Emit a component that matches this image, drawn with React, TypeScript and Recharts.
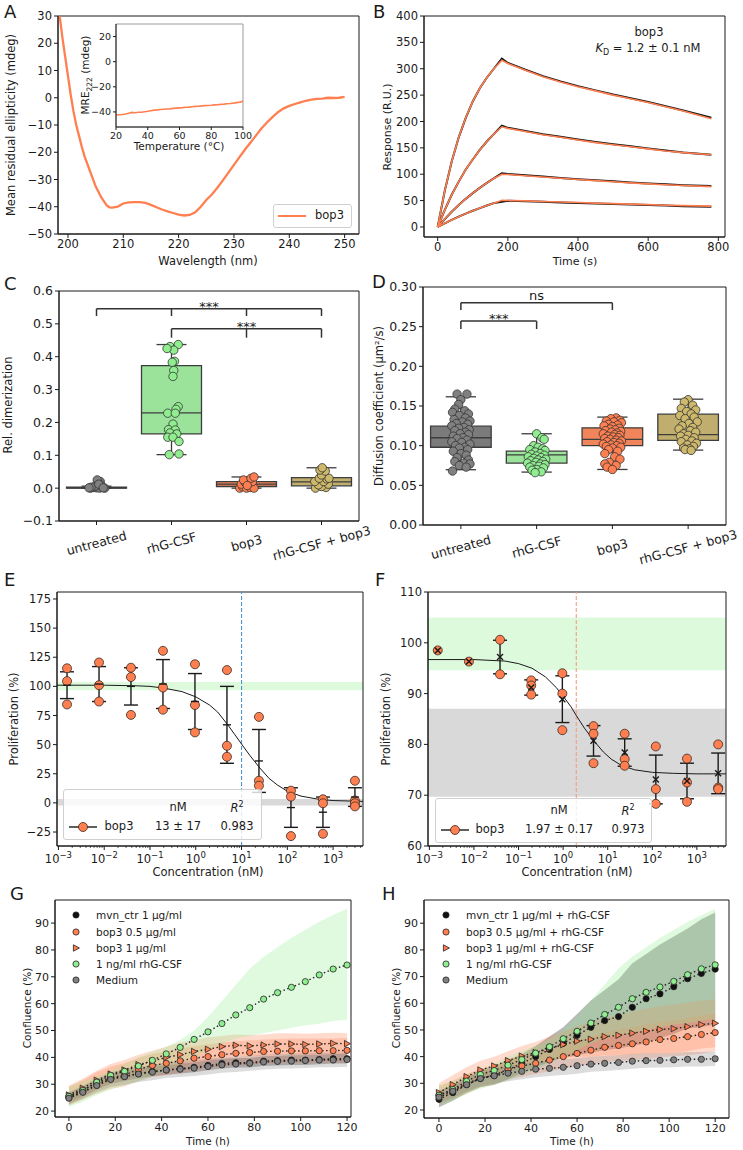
import React from "react";
import {
  Area,
  ComposedChart,
  ErrorBar,
  Line,
  ReferenceArea,
  ReferenceLine,
  Scatter,
  XAxis,
  YAxis,
} from "recharts";

const INK = "#1a1a1a";
const CORAL = "#ff7f50";
const LGREEN = "#90ee90";
const GREY = "#808080";
const KHAKI = "#cdb86c";
const FONT = '"DejaVu Sans", Verdana, sans-serif';

// ---------- A: CD spectrum + thermal melt inset ----------
const CD_WL = [198.5, 199, 199.5, 200, 200.5, 201, 201.5, 202, 202.5, 203, 204, 205, 206, 207, 207.5, 208, 209, 209.5, 210, 211, 212, 213, 214, 215, 216, 217, 218, 219, 220, 221, 222, 223, 224, 225, 226, 227, 228, 229, 230, 231, 232, 233, 234, 235, 236, 237, 238, 239, 240, 241, 242, 243, 244, 245, 246, 247, 248, 249, 250];
const CD_MRE = [30, 22, 15, 8, 1, -5, -10, -14, -18, -21.5, -27, -32.5, -36.5, -39.5, -40.2, -40.3, -40, -39.4, -38.8, -38.4, -38.3, -38.3, -38.6, -39.3, -40.2, -41, -41.7, -42.3, -42.9, -43.2, -43, -42, -40, -37.5, -35.5, -33, -30.3, -27.5, -24.6, -21.8, -19, -16.4, -13.8, -11.2, -9, -7, -5.2, -3.9, -3, -2.3, -1.7, -1.1, -0.7, -0.4, -0.3, 0, -0.1, 0, 0.3];
const MELT_T = [20, 22, 24, 26, 28, 30, 32, 34, 36, 38, 40, 42, 44, 46, 48, 50, 52, 54, 56, 58, 60, 62, 64, 66, 68, 70, 72, 74, 76, 78, 80, 82, 84, 86, 88, 90, 92, 94, 96, 98, 100];
const MELT_MRE = [-42.5, -42.2, -42.0, -41.6, -41.0, -40.4, -40.6, -40.2, -40.3, -39.9, -39.5, -39.0, -38.6, -38.4, -38.1, -37.9, -37.7, -37.6, -37.2, -37.0, -36.8, -36.6, -36.3, -36.2, -35.9, -35.6, -35.5, -35.2, -35.0, -34.9, -34.7, -34.4, -34.3, -34.0, -33.8, -33.5, -33.3, -33.0, -32.6, -32.2, -31.6];

// ---------- B: SPR sensorgrams ----------
const SPR_T = [0, 20, 40, 60, 80, 100, 120, 140, 160, 183, 200, 250, 300, 350, 400, 450, 500, 550, 600, 650, 700, 780];
const SPR_D1 = [0, 68, 124, 170, 207, 238, 263, 283, 300, 319, 311, 298, 286, 276, 267, 259, 251, 244, 237, 229, 221, 207];
const SPR_F1 = [0, 68, 124, 170, 207, 238, 263, 283, 300, 316, 310, 297, 285, 275, 266, 258, 250, 243, 236, 228, 220, 205];
const SPR_D2 = [0, 32, 61, 86, 109, 128, 146, 162, 176, 192, 188, 182, 176, 171, 166, 161, 157, 153, 149, 145, 141, 137];
const SPR_F2 = [0, 32, 61, 86, 109, 128, 146, 162, 176, 190, 187, 181, 175, 170, 165, 160, 156, 152, 148, 144, 141, 137];
const SPR_D3 = [0, 15, 28.8, 41.5, 53.3, 64.2, 74.2, 83.5, 92, 102, 100.5, 98, 95.5, 93, 90.5, 88.5, 86.5, 84.5, 82.5, 80.8, 79.2, 77.5];
const SPR_F3 = [0, 15, 28.8, 41.5, 53.3, 64.2, 74.2, 83.5, 92, 100, 99.5, 97.2, 94.8, 92.4, 90, 87.8, 85.7, 83.7, 81.8, 80, 78.5, 76.5];
const SPR_D4 = [0, 6.9, 13.4, 19.5, 25.3, 30.7, 35.8, 40.6, 45.2, 48, 49.5, 48.7, 47.6, 46.6, 45.6, 44.5, 43.5, 42.5, 41.5, 40.5, 39.5, 38.2];
const SPR_F4 = [0, 6.9, 13.4, 19.5, 25.3, 30.7, 35.8, 40.6, 45.2, 50.5, 50.2, 49.4, 48.4, 47.4, 46.4, 45.3, 44.3, 43.3, 42.3, 41.3, 40.4, 39.5];

// ---------- C / D: box + strip plots ----------
const GROUPS = ["untreated", "rhG-CSF", "bop3", "rhG-CSF + bop3"];
const GROUP_FILL = [GREY, LGREEN, CORAL, KHAKI];
const BOX_FILL = ["#7b7b7b", "#9be39b", "#f0845b", "#bfae6d"];

const C_LO = [0.0, 0.102, 0.0, 0.0];
const C_Q1 = [0.0, 0.165, 0.005, 0.007];
const C_MED = [0.001, 0.229, 0.012, 0.019];
const C_Q3 = [0.003, 0.373, 0.02, 0.032];
const C_HI = [0.006, 0.437, 0.034, 0.062];
const C_PTS: number[][][] = [
  [[-0.08, 0.0], [-0.04, 0.002], [0.0, 0.001], [0.04, 0.0], [0.08, 0.003], [0.11, 0.0], [0.05, 0.02], [0.01, 0.025], [-0.02, 0.006], [0.06, 0.009], [-0.07, 0.003], [0.03, 0.012], [0.09, 0.001], [-0.1, 0.001]],
  [[-0.02, 0.431], [0.09, 0.437], [0.03, 0.42], [-0.06, 0.425], [0.04, 0.386], [0.01, 0.383], [0.03, 0.358], [0.02, 0.34], [0.09, 0.248], [0.06, 0.24], [-0.05, 0.228], [0.05, 0.228], [0.02, 0.195], [-0.04, 0.178], [0.05, 0.177], [-0.02, 0.168], [0.07, 0.165], [-0.05, 0.155], [0.02, 0.155], [0.1, 0.142], [-0.03, 0.102], [0.1, 0.104]],
  [[-0.09, 0.0], [-0.05, 0.004], [0.0, 0.0], [0.05, 0.002], [0.1, 0.0], [-0.07, 0.012], [-0.02, 0.018], [0.03, 0.015], [0.08, 0.02], [-0.04, 0.025], [0.06, 0.03], [0.1, 0.034], [0.01, 0.008]],
  [[-0.08, 0.0], [0.06, 0.002], [0.0, 0.005], [-0.04, 0.01], [0.09, 0.012], [-0.09, 0.02], [0.03, 0.02], [0.07, 0.028], [-0.03, 0.03], [0.1, 0.03], [0.0, 0.04], [0.05, 0.052], [-0.02, 0.055], [0.01, 0.062]],
];
const C_SIG = [
  { from: 0, to: 3, y: 0.546, drop: 0.524, legs: [0, 1, 2, 3], text: "***" },
  { from: 1, to: 3, y: 0.485, drop: 0.458, legs: [1, 2, 3], text: "***" },
];

const D_LO = [0.0697, 0.0667, 0.07, 0.0944];
const D_Q1 = [0.098, 0.078, 0.1, 0.1066];
const D_MED = [0.11, 0.0885, 0.108, 0.114];
const D_Q3 = [0.1246, 0.093, 0.1225, 0.1397];
const D_HI = [0.1616, 0.115, 0.136, 0.1586];
const D_PTS: number[][][] = [
  [[-0.05, 0.165], [0.08, 0.165], [0.0, 0.158], [-0.03, 0.152], [-0.08, 0.146], [0.05, 0.144], [-0.11, 0.142], [0.1, 0.14], [-0.02, 0.138], [0.06, 0.135], [-0.09, 0.133], [0.12, 0.131], [0.02, 0.13], [-0.06, 0.128], [0.09, 0.127], [-0.12, 0.125], [0.04, 0.123], [-0.03, 0.122], [0.11, 0.12], [-0.08, 0.119], [0.06, 0.117], [-0.01, 0.115], [0.1, 0.114], [-0.1, 0.112], [0.03, 0.11], [-0.05, 0.109], [0.08, 0.107], [-0.12, 0.105], [0.01, 0.104], [0.12, 0.102], [-0.07, 0.1], [0.05, 0.098], [-0.02, 0.097], [0.09, 0.095], [-0.1, 0.093], [0.0, 0.09], [0.07, 0.088], [-0.05, 0.085], [0.1, 0.082], [-0.08, 0.08], [0.04, 0.078], [0.12, 0.077], [-0.02, 0.075], [0.07, 0.073], [-0.11, 0.068]],
  [[0.0, 0.115], [0.07, 0.11], [0.1, 0.108], [-0.04, 0.1], [0.02, 0.098], [0.08, 0.096], [-0.09, 0.095], [0.11, 0.094], [-0.02, 0.092], [0.05, 0.09], [-0.07, 0.089], [0.1, 0.088], [0.0, 0.087], [-0.11, 0.086], [0.06, 0.085], [-0.04, 0.084], [0.12, 0.083], [0.02, 0.082], [-0.08, 0.081], [0.08, 0.08], [-0.01, 0.079], [-0.12, 0.078], [0.05, 0.077], [0.11, 0.076], [-0.05, 0.075], [0.03, 0.074], [-0.09, 0.073], [0.09, 0.072], [0.0, 0.07], [-0.06, 0.069], [0.06, 0.067], [-0.02, 0.066]],
  [[0.05, 0.135], [-0.02, 0.134], [0.1, 0.132], [-0.08, 0.131], [0.02, 0.13], [0.12, 0.129], [-0.05, 0.127], [0.07, 0.126], [-0.11, 0.125], [0.0, 0.124], [0.09, 0.122], [-0.03, 0.121], [0.04, 0.12], [-0.09, 0.119], [0.11, 0.118], [-0.01, 0.117], [0.06, 0.116], [-0.12, 0.115], [0.03, 0.114], [0.1, 0.113], [-0.06, 0.112], [0.01, 0.111], [0.08, 0.11], [-0.1, 0.109], [-0.03, 0.108], [0.05, 0.107], [0.12, 0.106], [-0.07, 0.105], [0.02, 0.104], [0.09, 0.103], [-0.12, 0.102], [-0.02, 0.101], [0.06, 0.1], [-0.08, 0.099], [0.11, 0.098], [0.0, 0.097], [-0.05, 0.095], [0.07, 0.093], [-0.1, 0.09], [0.03, 0.086], [0.1, 0.083], [-0.04, 0.079], [-0.1, 0.077], [0.05, 0.075], [-0.07, 0.073], [0.0, 0.07]],
  [[0.0, 0.158], [-0.05, 0.155], [0.06, 0.151], [-0.09, 0.147], [0.1, 0.145], [-0.02, 0.143], [0.04, 0.14], [-0.11, 0.138], [0.08, 0.136], [-0.04, 0.134], [0.12, 0.13], [0.01, 0.128], [-0.08, 0.125], [0.06, 0.123], [-0.12, 0.121], [0.03, 0.119], [0.1, 0.117], [-0.06, 0.115], [0.0, 0.113], [-0.1, 0.112], [0.08, 0.11], [-0.03, 0.108], [0.05, 0.106], [-0.09, 0.105], [0.11, 0.103], [-0.01, 0.101], [0.07, 0.099], [-0.06, 0.097], [0.02, 0.096], [-0.04, 0.095], [0.04, 0.094]],
];
const D_SIG = [
  { from: 0, to: 2, y: 0.28, drop: 0.271, legs: [0, 2], text: "ns" },
  { from: 0, to: 1, y: 0.257, drop: 0.247, legs: [0, 1], text: "***" },
];

// ---------- E / F: dose response ----------
const CONC = [0.00154, 0.0077, 0.0384, 0.192, 0.96, 4.8, 24, 120, 600, 3000];
const E_REPS = [[115.5, 104.5, 84.5], [120.5, 101, 87], [116, 108, 75.5], [130.5, 99, 80], [119, 84, 60.5], [114, 49, 39.6], [73.8, 19, 14.8], [10.5, 5.4, -28.5], [3.1, -0.3, -26.5], [19, 2, -0.3, -3]];
const E_MEAN = [101, 102, 100, 102, 87, 67, 36, -4, -8, 5];
const E_SD = [11.5, 15, 16, 21, 24, 33, 27, 17, 13, 8];
const E_FIT_X = [0.00093, 0.01, 0.05, 0.1, 0.2, 0.5, 1, 2, 3, 5, 7, 10, 15, 25, 40, 60, 100, 200, 500, 1000, 4500];
const E_FIT_Y = [101, 101, 100.5, 100, 98.5, 95.5, 91, 84, 78, 67, 59, 50.5, 41, 30, 21, 15.5, 10, 5.8, 3, 2, 1.3];
const E_EC50 = 10;

const F_REPS = [[98.5], [96.3], [100.6, 93.8], [92.6, 91.6, 89.8], [94, 90, 82.8], [83.6, 82.1, 76.3], [82.1, 77.1, 75.8], [79.6, 71.2, 68.3], [77.2, 72.5, 68.7], [80, 71.5, 71.2]];
const F_MEAN = [98.5, 96.3, 97.2, 91.2, 88.9, 80.7, 78.4, 73.1, 72.8, 74.3];
const F_SD = [0, 0, 3.3, 1.5, 4.6, 3, 2.7, 4.8, 3.5, 4];
const F_FIT_X = [0.00093, 0.01, 0.05, 0.1, 0.2, 0.4, 0.7, 1, 1.5, 2, 3, 5, 8, 12, 20, 40, 100, 300, 1000, 4500];
const F_FIT_Y = [96.7, 96.7, 96.4, 95.9, 95, 93.3, 91.2, 89.5, 87.4, 85.6, 83.2, 80.6, 78.5, 77.1, 75.9, 75, 74.5, 74.3, 74.2, 74.2];
const F_EC50 = 1.97;

const LOG_MAJOR = [0.001, 0.01, 0.1, 1, 10, 100, 1000];
const LOG_MINOR = [2, 3, 4, 5, 6, 7, 8, 9];

// ---------- G / H: confluence time courses ----------
const TIME_H = [0, 6, 12, 18, 24, 30, 36, 42, 48, 54, 60, 66, 72, 78, 84, 90, 96, 102, 108, 114, 120];
const CSF = [25.5, 27.7, 30.8, 33.3, 34.8, 36.8, 38.9, 41.3, 43.7, 46.7, 49.5, 52.6, 55.8, 58.5, 61.7, 64.1, 66.1, 68.2, 70.7, 72.9, 74.4];
const CSF_HI = [29, 31, 33, 35, 37.5, 40, 42, 44, 46.5, 50, 55, 61, 67, 73, 77.5, 81, 84.5, 87.5, 90.5, 93, 95.3];
const CSF_LO = [21.5, 23.5, 26, 28, 29.5, 31, 33, 35, 37.5, 40, 42.5, 45, 47, 48, 49, 50, 51, 52, 52.5, 53.5, 54];
const MED = [24.8, 27, 29.5, 31.8, 32.8, 33.8, 34.5, 35.3, 35.6, 36, 36.6, 37.2, 37.5, 37.8, 38.3, 38.5, 38.6, 38.8, 39, 39, 39.2];
const MED_HI = [27, 29.5, 32, 34.5, 35.5, 36.5, 37.3, 38, 38.5, 38.9, 39.5, 40, 40.3, 40.5, 41, 41.2, 41.3, 41.5, 41.7, 41.7, 41.9];
const MED_LO = [22.5, 24.5, 27, 29, 29.8, 30.8, 31.5, 32.3, 32.7, 33.1, 33.6, 34.3, 34.6, 35, 35.5, 35.8, 35.9, 36, 36.3, 36.3, 36.5];

const G_MVN = [25, 27.2, 29.8, 32, 33, 34, 34.8, 35.3, 35.8, 36.3, 37, 37.7, 38, 38, 38.6, 38.8, 39, 39, 39.2, 39.5, 39.5];
const G_MVN_HI = [26.8, 29, 31.6, 33.8, 34.8, 35.8, 36.6, 37.1, 37.6, 38.1, 38.8, 39.5, 39.8, 39.8, 40.4, 40.6, 40.8, 40.8, 41, 41.3, 41.3];
const G_MVN_LO = [23.2, 25.4, 28, 30.2, 31.2, 32.2, 33, 33.5, 34, 34.5, 35.2, 35.9, 36.2, 36.2, 36.8, 37, 37.2, 37.2, 37.4, 37.7, 37.7];
const G_B05 = [25.5, 27.8, 30.5, 32.3, 33.5, 35.5, 37, 37.8, 38.7, 39.7, 40.3, 41, 41.5, 41.8, 42.2, 42.3, 42.4, 42.4, 42.5, 42.5, 42.6];
const G_B05_HI = [29, 31.5, 34.5, 36.5, 37.8, 39.8, 41.3, 42.3, 43.2, 44.2, 44.8, 45.5, 46, 46.3, 46.7, 46.8, 47, 47, 47, 47, 47.2];
const G_B05_LO = [22, 24.2, 26.5, 28.3, 29.2, 31.2, 32.7, 33.3, 34.2, 35.2, 35.8, 36.5, 37, 37.3, 37.7, 37.8, 37.9, 37.8, 38, 38, 38];
const G_B1 = [26, 28.5, 31.5, 33.8, 35.3, 37.3, 38.6, 40, 41, 42.2, 43, 44, 44.5, 44.3, 44.6, 45, 45, 44.8, 45, 45.2, 45.1];
const G_B1_HI = [29.5, 32, 35, 37.5, 39, 41, 42.5, 44, 45.5, 46.5, 47.5, 48, 48.5, 48.3, 48.5, 49, 49, 48.8, 49, 49.2, 49];
const G_B1_LO = [22.5, 25, 28, 30, 31.5, 33.5, 34.7, 36, 36.5, 38, 38.5, 40, 40.5, 40.3, 40.7, 41, 41, 40.8, 41, 41.2, 41.2];

const H_MVN = [24, 26.5, 29.5, 31.8, 33, 35, 37.5, 40, 42.7, 45, 48, 51, 53.5, 55, 58.5, 61.7, 63.5, 66.2, 69.2, 71.2, 72.8];
const H_MVN_HI = [27, 29.5, 32.5, 35, 36.5, 38.5, 41, 44, 47.5, 51, 56, 61, 65, 69, 75, 78.5, 82, 85, 88, 91.5, 94];
const H_MVN_LO = [21, 23.5, 26.5, 28.5, 29.5, 31.5, 34, 36, 38, 39.5, 40.5, 41.5, 42.5, 43, 44, 45, 47, 48.5, 50.5, 51, 52];
const H_B05 = [25.5, 27.5, 29.8, 32, 33, 35.3, 36.5, 37.5, 38.7, 40, 41.2, 42.4, 43.5, 44.2, 44.8, 45.5, 46.4, 46.8, 47.5, 48.3, 49];
const H_B05_HI = [29, 31, 33.5, 35.5, 36.5, 39, 40.5, 41.5, 43, 44.5, 46, 47.5, 49, 50, 51, 52, 53, 53.5, 54.5, 55.5, 56];
const H_B05_LO = [22, 24, 26, 28.5, 29.5, 31.5, 32.5, 33.5, 34.5, 35.5, 36.5, 37.3, 38, 38.4, 38.6, 39, 39.8, 40.1, 40.5, 41.1, 42];
const H_B1 = [26.5, 29.5, 32.5, 35, 36.5, 38.5, 40.2, 41.5, 43, 44.5, 45.8, 46.5, 47.5, 48, 48.8, 49.5, 50.2, 50.5, 51.2, 52, 52.5];
const H_B1_HI = [30, 33, 36, 38.5, 40, 42, 44, 45.5, 47.5, 49.5, 51.5, 53, 54.5, 55.5, 57, 58, 59, 59.5, 60.3, 61, 61.5];
const H_B1_LO = [23, 26, 29, 31.5, 33, 35, 36.5, 37.5, 38.5, 39.5, 40, 40, 40.5, 40.5, 40.8, 41, 41.3, 41.5, 42, 43, 43.5];

const G_LABELS = ["mvn_ctr 1 µg/ml", "bop3 0.5 µg/ml", "bop3 1 µg/ml", "1 ng/ml rhG-CSF", "Medium"];
const H_LABELS = ["mvn_ctr 1 µg/ml + rhG-CSF", "bop3 0.5 µg/ml + rhG-CSF", "bop3 1 µg/ml + rhG-CSF", "1 ng/ml rhG-CSF", "Medium"];

// ---------- layout helpers ----------
type Box = [number, number, number, number];

function geo(b: Box, yw = 56, xh = 40, pad = 12) {
  return {
    style: { position: "absolute" as const, left: b[0] - yw, top: b[1] - pad },
    width: b[2] - b[0] + yw + pad,
    height: b[3] - b[1] + pad + xh,
    margin: { top: pad, right: pad, left: 0, bottom: 0 },
    yw,
    xh,
  };
}

function ax(size: number) {
  return {
    type: "number" as const,
    allowDataOverflow: true,
    interval: 0 as const,
    tick: { fontSize: size, fill: INK },
    tickLine: { stroke: INK },
    axisLine: { stroke: INK },
    tickSize: 4,
    tickMargin: 2,
  };
}

const minus = (v: number, digits = 0) => {
  const s = Math.abs(v).toFixed(digits);
  return v < 0 ? `\u2212${s}` : s;
};

function frame(x: number[], y: number[], stroke = INK) {
  return (
    <ReferenceArea x1={x[0]} x2={x[1]} y1={y[0]} y2={y[1]} fill="none" stroke={stroke} strokeWidth={1} ifOverflow="visible" />
  );
}

function T({ x, y, size = 11.5, rot = 0, anchor = "middle", style, children }: any) {
  const tx = anchor === "middle" ? "-50%" : anchor === "start" ? "0%" : "-100%";
  return (
    <div
      style={{
        position: "absolute",
        left: x,
        top: y,
        transform: `translate(${tx}, -50%) rotate(${rot}deg)`,
        fontSize: size,
        lineHeight: 1,
        whiteSpace: "nowrap",
        color: INK,
        ...style,
      }}
    >
      {children}
    </div>
  );
}

function Letter({ x, y, children }: any) {
  return <T x={x} y={y} size={18} anchor="start">{children}</T>;
}

// ---------- panel A ----------
const A_BOX: Box = [58, 16, 359, 234];
const A_X = [198.2, 252.6];
const A_Y = [-50, 30];
const IN_BOX: Box = [116, 24, 243, 127];
const IN_X = [20, 100];
const IN_Y = [-52, 30];

function PanelA() {
  const g = geo(A_BOX);
  const gi = geo(IN_BOX, 30, 22, 14);
  const data = CD_WL.map((wl, i) => ({ wl, mre: CD_MRE[i] }));
  const melt = MELT_T.map((t, i) => ({ t, mre: MELT_MRE[i] }));
  return (
    <>
      <div style={g.style}>
        <ComposedChart width={g.width} height={g.height} margin={g.margin} data={data}>
          <XAxis dataKey="wl" domain={A_X} ticks={[200, 210, 220, 230, 240, 250]} height={g.xh} {...ax(11.5)} />
          <YAxis domain={A_Y} ticks={[-50, -40, -30, -20, -10, 0, 10, 20, 30]} width={g.yw} tickFormatter={(v: number) => minus(v)} {...ax(11.5)} />
          <Line dataKey="mre" type="linear" stroke={CORAL} strokeWidth={2.3} dot={false} activeDot={false} isAnimationActive={false} />
          {frame(A_X, A_Y)}
        </ComposedChart>
      </div>
      <div style={gi.style}>
        <ComposedChart width={gi.width} height={gi.height} margin={gi.margin} data={melt}>
          <XAxis dataKey="t" domain={IN_X} ticks={[20, 40, 60, 80, 100]} height={gi.xh} {...ax(9.5)} tickSize={3} />
          <YAxis domain={IN_Y} ticks={[-40, -20, 0, 20]} width={gi.yw} tickFormatter={(v: number) => minus(v)} {...ax(9.5)} tickSize={3} />
          <ReferenceArea x1={IN_X[0]} x2={IN_X[1]} y1={IN_Y[0]} y2={IN_Y[1]} fill="#fff" fillOpacity={1} stroke="#9a9a9a" ifOverflow="visible" />
          <Line dataKey="mre" type="linear" stroke={CORAL} strokeWidth={1.6} dot={false} activeDot={false} isAnimationActive={false} />
        </ComposedChart>
      </div>
      <T x={87} y={75} size={10.5} rot={-90}>MRE<sub style={{ fontSize: 7.5 }}>222</sub> (mdeg)</T>
      <T x={179} y={146} size={10.5}>Temperature (°C)</T>
      <div style={{ position: "absolute", left: 273, top: 204, width: 79, height: 24, border: "1px solid #d0d0d0", borderRadius: 3, background: "rgba(255,255,255,0.85)", boxSizing: "border-box" }}>
        <div style={{ position: "absolute", left: 4, top: 10, width: 28, height: 2.3, background: CORAL }} />
        <div style={{ position: "absolute", left: 41, top: 5, fontSize: 11.5, lineHeight: 1, color: INK }}>bop3</div>
      </div>
      <T x={12} y={125} rot={-90}>Mean residual ellipticity (mdeg)</T>
      <T x={208} y={262}>Wavelength (nm)</T>
      <Letter x={4} y={12}>A</Letter>
    </>
  );
}

// ---------- panel B ----------
const B_BOX: Box = [424, 16, 725, 237];
const B_X = [-39, 819];
const B_Y = [-19, 400];

function PanelB() {
  const g = geo(B_BOX);
  const data = SPR_T.map((t, i) => ({
    t,
    d1: SPR_D1[i], f1: SPR_F1[i], d2: SPR_D2[i], f2: SPR_F2[i],
    d3: SPR_D3[i], f3: SPR_F3[i], d4: SPR_D4[i], f4: SPR_F4[i],
  }));
  const line = (k: string, c: string, w: number) => (
    <Line key={k} dataKey={k} type="linear" stroke={c} strokeWidth={w} dot={false} activeDot={false} isAnimationActive={false} />
  );
  return (
    <>
      <div style={g.style}>
        <ComposedChart width={g.width} height={g.height} margin={g.margin} data={data}>
          <XAxis dataKey="t" domain={B_X} ticks={[0, 200, 400, 600, 800]} height={g.xh} {...ax(11.5)} />
          <YAxis domain={B_Y} ticks={[0, 50, 100, 150, 200, 250, 300, 350, 400]} width={g.yw} {...ax(11.5)} />
          {["d1", "d2", "d3", "d4"].map((k) => line(k, "#111", 2))}
          {["f1", "f2", "f3", "f4"].map((k) => line(k, CORAL, 1.6))}
          {frame(B_X, B_Y)}
        </ComposedChart>
      </div>
      <T x={649} y={33}>bop3</T>
      <T x={648} y={50}>
        <i>K</i>
        <sub style={{ fontSize: 8 }}>D</sub> = 1.2 ± 0.1 nM
      </T>
      <T x={387} y={127} size={11} rot={-90}>Response (R.U.)</T>
      <T x={575} y={261} size={11}>Time (s)</T>
      <Letter x={373} y={12}>B</Letter>
    </>
  );
}

// ---------- panels C & D ----------
function CatTick({ x, y, payload }: any) {
  const cy = y + 16;
  return (
    <text x={x} y={cy} transform={`rotate(-15 ${x} ${cy})`} textAnchor="middle" dominantBaseline="central" fontSize={12.5} fill={INK}>
      {GROUPS[payload.value]}
    </text>
  );
}

function boxes(lo: number[], q1: number[], med: number[], q3: number[], hi: number[]) {
  const out: any[] = [];
  const edge = "#3d3d3d";
  GROUPS.forEach((_, i) => {
    out.push(
      <ReferenceLine key={`wl${i}`} segment={[{ x: i, y: lo[i] }, { x: i, y: q1[i] }]} stroke={edge} strokeWidth={1.3} ifOverflow="visible" />,
      <ReferenceLine key={`wh${i}`} segment={[{ x: i, y: q3[i] }, { x: i, y: hi[i] }]} stroke={edge} strokeWidth={1.3} ifOverflow="visible" />,
      <ReferenceLine key={`cl${i}`} segment={[{ x: i - 0.2, y: lo[i] }, { x: i + 0.2, y: lo[i] }]} stroke={edge} strokeWidth={1.3} ifOverflow="visible" />,
      <ReferenceLine key={`ch${i}`} segment={[{ x: i - 0.2, y: hi[i] }, { x: i + 0.2, y: hi[i] }]} stroke={edge} strokeWidth={1.3} ifOverflow="visible" />,
      <ReferenceArea key={`b${i}`} x1={i - 0.4} x2={i + 0.4} y1={q1[i]} y2={q3[i]} fill={BOX_FILL[i]} fillOpacity={1} stroke={edge} strokeWidth={1.3} ifOverflow="visible" />,
      <ReferenceLine key={`m${i}`} segment={[{ x: i - 0.4, y: med[i] }, { x: i + 0.4, y: med[i] }]} stroke={edge} strokeWidth={1.3} ifOverflow="visible" />,
    );
  });
  return out;
}

function strips(pts: number[][][]) {
  return pts.map((grp, i) => (
    <Scatter
      key={`s${i}`}
      data={grp.map(([dx, v]) => ({ x: i + dx, y: v }))}
      dataKey="y"
      isAnimationActive={false}
      shape={(p: any) => <circle cx={p.cx} cy={p.cy} r={4.2} fill={GROUP_FILL[i]} stroke="#333" strokeWidth={0.8} />}
    />
  ));
}

function brackets(sig: any[], size: number) {
  const out: any[] = [];
  sig.forEach((s, j) => {
    out.push(
      <ReferenceLine
        key={`h${j}`}
        segment={[{ x: s.from, y: s.y }, { x: s.to, y: s.y }]}
        stroke="#333"
        strokeWidth={1.5}
        ifOverflow="visible"
        label={{ value: s.text, position: "top", offset: s.text === "ns" ? 3 : -2, fontSize: size, fill: INK }}
      />,
    );
    s.legs.forEach((x: number, k: number) =>
      out.push(
        <ReferenceLine key={`l${j}-${k}`} segment={[{ x, y: s.y }, { x, y: s.drop }]} stroke="#333" strokeWidth={1.5} ifOverflow="visible" />,
      ),
    );
  });
  return out;
}

const CAT_X = [-0.5, 3.5];
const C_BOX: Box = [59, 291, 359, 521];
const C_Y = [-0.1, 0.6];

function PanelC() {
  const g = geo(C_BOX, 56, 60);
  return (
    <>
      <div style={g.style}>
        <ComposedChart width={g.width} height={g.height} margin={g.margin}>
          <XAxis dataKey="x" domain={CAT_X} ticks={[0, 1, 2, 3]} height={g.xh} {...ax(12.5)} tick={<CatTick />} />
          <YAxis domain={C_Y} ticks={[-0.1, 0, 0.1, 0.2, 0.3, 0.4, 0.5, 0.6]} width={g.yw} tickFormatter={(v: number) => minus(v, 1)} {...ax(12.5)} />
          {boxes(C_LO, C_Q1, C_MED, C_Q3, C_HI)}
          {strips(C_PTS)}
          {brackets(C_SIG, 13)}
          {frame(CAT_X, C_Y)}
        </ComposedChart>
      </div>
      <T x={9} y={405} size={11.5} rot={-90}>Rel. dimerization</T>
      <Letter x={4} y={284}>C</Letter>
    </>
  );
}

const D_BOX: Box = [423, 287, 726, 525];
const D_Y = [0, 0.3];

function PanelD() {
  const g = geo(D_BOX, 56, 60);
  return (
    <>
      <div style={g.style}>
        <ComposedChart width={g.width} height={g.height} margin={g.margin}>
          <XAxis dataKey="x" domain={CAT_X} ticks={[0, 1, 2, 3]} height={g.xh} {...ax(12.5)} tick={<CatTick />} />
          <YAxis domain={D_Y} ticks={[0, 0.05, 0.1, 0.15, 0.2, 0.25, 0.3]} width={g.yw} tickFormatter={(v: number) => minus(v, 2)} {...ax(12.5)} />
          {boxes(D_LO, D_Q1, D_MED, D_Q3, D_HI)}
          {strips(D_PTS)}
          {brackets(D_SIG, 13)}
          {frame(CAT_X, D_Y)}
        </ComposedChart>
      </div>
      <T x={380} y={406} size={11.5} rot={-90}>Diffusion coefficient (µm²/s)</T>
      <Letter x={372} y={282}>D</Letter>
    </>
  );
}

// ---------- panels E & F ----------
const LOG_X = [0.00093, 4500];
const LOG_TICKS = [
  ...LOG_MAJOR,
  ...LOG_MAJOR.flatMap((d) => LOG_MINOR.map((m) => m * d)).filter((v) => v <= LOG_X[1]),
];

function LogTick({ x, y, payload }: any) {
  const v = payload.value as number;
  const e = Math.log10(v);
  const k = Math.round(e);
  const major = Math.abs(e - k) < 1e-6;
  return (
    <g>
      <line x1={x} x2={x} y1={y} y2={y + (major ? 4 : 2)} stroke={INK} strokeWidth={major ? 1 : 0.7} />
      {major && (
        <text x={x} y={y + 17} textAnchor="middle" fontSize={11.5} fill={INK}>
          10
          <tspan dy={-5} fontSize={8.5}>{k < 0 ? `\u2212${-k}` : k}</tspan>
        </text>
      )}
    </g>
  );
}

function DosePanel({ box, ydom, yticks, reps, mean, sd, fitX, fitY, ec50, ecColor, green, grey, meanMark }: any) {
  const g = geo(box, 56, 40);
  const pts = reps.flatMap((r: number[], i: number) => r.map((v) => ({ x: CONC[i], y: v })));
  const means = mean.map((m: number, i: number) => ({ x: CONC[i], y: m, err: sd[i] }));
  const fit = fitX.map((x: number, i: number) => ({ x, y: fitY[i] }));
  return (
    <div style={g.style}>
      <ComposedChart width={g.width} height={g.height} margin={g.margin}>
        <XAxis dataKey="x" scale="log" domain={LOG_X} ticks={LOG_TICKS} height={g.xh} {...ax(11.5)} tick={<LogTick />} tickLine={false} tickSize={0} tickMargin={0} />
        <YAxis domain={ydom} ticks={yticks} width={g.yw} tickFormatter={(v: number) => minus(v)} {...ax(11.5)} />
        <ReferenceArea y1={green[0]} y2={green[1]} fill={LGREEN} fillOpacity={0.3} stroke="none" ifOverflow="hidden" />
        <ReferenceArea y1={grey[0]} y2={grey[1]} fill={GREY} fillOpacity={0.3} stroke="none" ifOverflow="hidden" />
        <ReferenceLine x={ec50} stroke={ecColor} strokeWidth={1.1} strokeDasharray="4 2" />
        <Line data={fit} dataKey="y" type="linear" stroke={INK} strokeWidth={1} dot={false} activeDot={false} isAnimationActive={false} />
        <Scatter
          data={pts}
          dataKey="y"
          isAnimationActive={false}
          shape={(p: any) => <circle cx={p.cx} cy={p.cy} r={4.5} fill={CORAL} stroke="#3a2a20" strokeWidth={0.8} />}
        />
        <Scatter data={means} dataKey="y" isAnimationActive={false} shape={meanMark}>
          <ErrorBar dataKey="err" direction="y" width={7} stroke={INK} strokeWidth={1.4} />
        </Scatter>
        {frame(LOG_X, ydom)}
      </ComposedChart>
    </div>
  );
}

function DoseLegend({ left, top, width, height, cols, ec, r2 }: any) {
  return (
    <>
      <div style={{ position: "absolute", left, top, width, height, border: "1px solid #d0d0d0", borderRadius: 3, background: "rgba(255,255,255,0.8)", boxSizing: "border-box" }} />
      <svg style={{ position: "absolute", left: left + 5, top: top + height - 19 }} width={30} height={12}>
        <line x1={1} x2={29} y1={6} y2={6} stroke={INK} strokeWidth={1.4} />
        <circle cx={15} cy={6} r={4.5} fill={CORAL} stroke="#3a2a20" strokeWidth={0.8} />
      </svg>
      <T x={cols[1]} y={top + height - 32}>nM</T>
      <T x={cols[2]} y={top + height - 32}>
        <i>R</i>
        <sup style={{ fontSize: 8 }}>2</sup>
      </T>
      <T x={cols[0]} y={top + height - 13}>bop3</T>
      <T x={cols[1]} y={top + height - 13}>{ec}</T>
      <T x={cols[2]} y={top + height - 13}>{r2}</T>
    </>
  );
}

const E_BOX: Box = [57, 592, 363, 846];
const F_BOX: Box = [428, 592, 726, 846];

const dashMark = (p: any) => <line x1={p.cx - 4} x2={p.cx + 4} y1={p.cy} y2={p.cy} stroke={INK} strokeWidth={1.4} />;
const crossMark = (p: any) => (
  <g stroke={INK} strokeWidth={1.4}>
    <line x1={p.cx - 3} x2={p.cx + 3} y1={p.cy - 3} y2={p.cy + 3} />
    <line x1={p.cx - 3} x2={p.cx + 3} y1={p.cy + 3} y2={p.cy - 3} />
  </g>
);

function PanelE() {
  return (
    <>
      <DosePanel
        box={E_BOX}
        ydom={[-37, 181]}
        yticks={[-25, 0, 25, 50, 75, 100, 125, 150, 175]}
        reps={E_REPS}
        mean={E_MEAN}
        sd={E_SD}
        fitX={E_FIT_X}
        fitY={E_FIT_Y}
        ec50={E_EC50}
        ecColor="#4f93d2"
        green={[96.7, 103.8]}
        grey={[-2.3, 3.4]}
        meanMark={dashMark}
      />
      <DoseLegend left={63} top={789} width={199} height={51} cols={[119, 178, 237]} ec="13 ± 17" r2="0.983" />
      <T x={15} y={719} size={11.5} rot={-90}>Proliferation (%)</T>
      <T x={208} y={873} size={11.5}>Concentration (nM)</T>
      <Letter x={4} y={580}>E</Letter>
    </>
  );
}

function PanelF() {
  return (
    <>
      <DosePanel
        box={F_BOX}
        ydom={[60, 110]}
        yticks={[60, 70, 80, 90, 100, 110]}
        reps={F_REPS}
        mean={F_MEAN}
        sd={F_SD}
        fitX={F_FIT_X}
        fitY={F_FIT_Y}
        ec50={F_EC50}
        ecColor="#f4a07e"
        green={[94.6, 105]}
        grey={[69.7, 87]}
        meanMark={crossMark}
      />
      <DoseLegend left={435} top={798} width={217} height={45} cols={[490, 559, 628]} ec="1.97 ± 0.17" r2="0.973" />
      <T x={387} y={719} size={11.5} rot={-90}>Proliferation (%)</T>
      <T x={577} y={873} size={11.5}>Concentration (nM)</T>
      <Letter x={375} y={580}>F</Letter>
    </>
  );
}

// ---------- panels G & H ----------
const SERIES_STYLE = [
  { key: "mvn", fill: "#111", band: "#000", shape: "circle" },
  { key: "b05", fill: CORAL, band: CORAL, shape: "circle" },
  { key: "b1", fill: CORAL, band: CORAL, shape: "tri" },
  { key: "csf", fill: LGREEN, band: LGREEN, shape: "circle" },
  { key: "med", fill: GREY, band: GREY, shape: "circle" },
];

function marker(shape: string, fill: string, cx: number, cy: number, key?: any) {
  if (shape === "tri") {
    return <path key={key} d={`M${cx - 2.6},${cy - 3.2} L${cx - 2.6},${cy + 3.2} L${cx + 3.4},${cy} Z`} fill={fill} stroke="#222" strokeWidth={0.8} />;
  }
  return <circle key={key} cx={cx} cy={cy} r={3.1} fill={fill} stroke="#222" strokeWidth={0.8} />;
}

function GrowthPanel({ box, xdom, ydom, rows, labels, legendX }: any) {
  const g = geo(box, 56, 40);
  return (
    <>
      <div style={g.style}>
        <ComposedChart width={g.width} height={g.height} margin={g.margin} data={rows}>
          <XAxis dataKey="t" domain={xdom} ticks={[0, 20, 40, 60, 80, 100, 120]} height={g.xh} {...ax(11)} />
          <YAxis domain={ydom} ticks={[20, 30, 40, 50, 60, 70, 80, 90]} width={g.yw} {...ax(11)} />
          {SERIES_STYLE.map((s) => (
            <Area key={`a${s.key}`} dataKey={`${s.key}Band`} type="linear" fill={s.band} fillOpacity={0.28} stroke="none" dot={false} activeDot={false} isAnimationActive={false} />
          ))}
          {SERIES_STYLE.map((s) => (
            <Line
              key={`l${s.key}`}
              dataKey={s.key}
              type="linear"
              stroke="#222"
              strokeWidth={1.4}
              strokeDasharray="1.5 2.5"
              activeDot={false}
              isAnimationActive={false}
              dot={(p: any) => marker(s.shape, s.fill, p.cx, p.cy, `d${s.key}${p.index}`)}
            />
          ))}
          {frame(xdom, ydom)}
        </ComposedChart>
      </div>
      {labels.map((lab: string, i: number) => {
        const y = [915, 932, 948, 964, 980][i];
        return (
          <React.Fragment key={lab}>
            <svg style={{ position: "absolute", left: legendX - 6, top: y - 6 }} width={12} height={12}>
              {marker(SERIES_STYLE[i].shape, SERIES_STYLE[i].fill, 6, 6)}
            </svg>
            <T x={legendX + 20} y={y} size={10.5} anchor="start">{lab}</T>
          </React.Fragment>
        );
      })}
    </>
  );
}

function rowsOf(mvn: number[][], b05: number[][], b1: number[][]) {
  return TIME_H.map((t, i) => ({
    t,
    mvn: mvn[0][i], mvnBand: [mvn[1][i], mvn[2][i]],
    b05: b05[0][i], b05Band: [b05[1][i], b05[2][i]],
    b1: b1[0][i], b1Band: [b1[1][i], b1[2][i]],
    csf: CSF[i], csfBand: [CSF_LO[i], CSF_HI[i]],
    med: MED[i], medBand: [MED_LO[i], MED_HI[i]],
  }));
}

function PanelG() {
  const rows = rowsOf([G_MVN, G_MVN_LO, G_MVN_HI], [G_B05, G_B05_LO, G_B05_HI], [G_B1, G_B1_LO, G_B1_HI]);
  return (
    <>
      <GrowthPanel box={[55, 900, 351, 1117]} xdom={[-6, 121.7]} ydom={[17.8, 98.6]} rows={rows} labels={G_LABELS} legendX={76} />
      <T x={27} y={1008} size={10.5} rot={-90}>Confluence (%)</T>
      <T x={208} y={1141} size={10.5}>Time (h)</T>
      <Letter x={10} y={894}>G</Letter>
    </>
  );
}

function PanelH() {
  const rows = rowsOf([H_MVN, H_MVN_LO, H_MVN_HI], [H_B05, H_B05_LO, H_B05_HI], [H_B1, H_B1_LO, H_B1_HI]);
  return (
    <>
      <GrowthPanel box={[424, 900, 729, 1118]} xdom={[-6.5, 126]} ydom={[17, 98.7]} rows={rows} labels={H_LABELS} legendX={446} />
      <T x={396} y={1008} size={10.5} rot={-90}>Confluence (%)</T>
      <T x={572} y={1141} size={10.5}>Time (h)</T>
      <Letter x={382} y={894}>H</Letter>
    </>
  );
}

export default function App() {
  return (
    <div style={{ position: "absolute", left: 0, top: 0, width: 743, height: 1150, background: "#fff", fontFamily: FONT, color: INK, overflow: "hidden" }}>
      <PanelA />
      <PanelB />
      <PanelC />
      <PanelD />
      <PanelE />
      <PanelF />
      <PanelG />
      <PanelH />
    </div>
  );
}
